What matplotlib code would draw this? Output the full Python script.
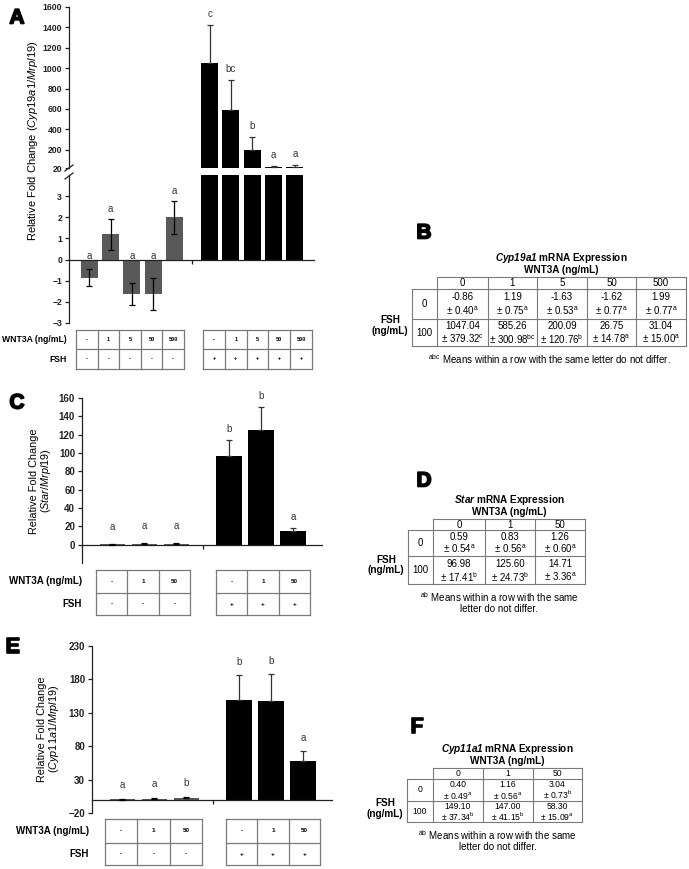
import numpy as np
import matplotlib.pyplot as plt
import matplotlib.patheffects as pe

plt.rcParams['font.family'] = ['Liberation Sans', 'DejaVu Sans']
plt.rcParams['mathtext.fontset'] = 'custom'
plt.rcParams['mathtext.rm'] = 'Liberation Sans'
plt.rcParams['mathtext.it'] = 'Liberation Sans:italic'
plt.rcParams['mathtext.bf'] = 'Liberation Sans:bold'
plt.rcParams['mathtext.bfit'] = 'Liberation Sans:italic:bold'

doses_a = [0, 1, 5, 50, 500]
cyp19_ctrl = [-0.86, 1.19, -1.63, -1.62, 1.99]
cyp19_ctrl_sem = [0.40, 0.75, 0.53, 0.77, 0.77]
cyp19_ctrl_let = ['a', 'a', 'a', 'a', 'a']
cyp19_fsh = [1047.04, 585.26, 200.09, 26.75, 31.04]
cyp19_fsh_sem = [379.32, 300.98, 120.76, 14.78, 15.00]
cyp19_fsh_let = ['c', 'bc', 'b', 'a', 'a']

doses_c = [0, 1, 50]
star_ctrl = [0.59, 0.83, 1.26]
star_ctrl_sem = [0.54, 0.56, 0.60]
star_ctrl_let = ['a', 'a', 'a']
star_fsh = [96.98, 125.60, 14.71]
star_fsh_sem = [17.41, 24.73, 3.36]
star_fsh_let = ['b', 'b', 'a']

cyp11_ctrl = [0.40, 1.16, 3.04]
cyp11_ctrl_sem = [0.49, 0.56, 0.73]
cyp11_ctrl_let = ['a', 'a', 'b']
cyp11_fsh = [149.10, 147.00, 58.30]
cyp11_fsh_sem = [37.34, 41.15, 15.09]
cyp11_fsh_let = ['b', 'b', 'a']

fsh_levels = [0, 100]

W, H = 689, 869
fig = plt.figure(figsize=(W / 100, H / 100), dpi=100)

GRAY = '#595959'
ERR = '#333333'
LINE = '#7a7a7a'
PX = 0.72  # points per pixel
HEAVY = [pe.withStroke(linewidth=1.2, foreground='black')]


def px_axes(x0, y0, x1, y1):
    return fig.add_axes([x0 / W, 1 - y1 / H, (x1 - x0) / W, (y1 - y0) / H])


def positions(n):
    g1 = np.arange(n, dtype=float)
    g2 = g1 + (n - 1) + 1.65
    return g1, g2


def style_axis(ax, tick_fs):
    for s in ['top', 'right']:
        ax.spines[s].set_visible(False)
    ax.spines['left'].set_linewidth(0.9)
    ax.spines['left'].set_color('#222222')
    ax.tick_params(axis='y', length=3, width=0.9, labelsize=tick_fs, pad=2, colors='#222222')
    for lab in ax.get_yticklabels():
        lab.set_fontweight('bold')


def zero_axis(ax, sep):
    ax.spines['bottom'].set_position(('data', 0))
    ax.spines['bottom'].set_linewidth(0.9)
    ax.spines['bottom'].set_color('#222222')
    ax.set_xticks([sep])
    ax.tick_params(axis='x', length=3, width=0.9, labelbottom=False, colors='#222222')


def letters(ax, xs, means, sems, lets, off_px=11):
    for x, m, e, t in zip(xs, means, sems, lets):
        if m < 0:
            y, off = 0, 4
        else:
            y, off = m + e, off_px
        ax.annotate(t, (x, y), xytext=(0, off * PX), textcoords='offset points',
                    ha='center', va='center', fontsize=7, color='#333333')


def errs(ax, xs, means, sems, both, color=ERR):
    lo = sems if both else [0] * len(sems)
    ax.errorbar(xs, means, yerr=[lo, sems], fmt='none', ecolor=color, elinewidth=0.9,
                capsize=2, capthick=0.9, zorder=3, clip_on=True)


ov = fig.add_axes([0, 0, 1, 1], zorder=5)
ov.set_xlim(0, W)
ov.set_ylim(H, 0)
ov.axis('off')
ov.patch.set_alpha(0)


def panel_label(x, y, s):
    ov.text(x, y, s, ha='center', va='center', fontsize=15, fontweight='bold',
            path_effects=HEAVY)


def dose_txt(d):
    return '-' if d == 0 else str(d)


def treat_table(boxes, top, mid, bot, doses, label_x, fs_lab, fs_cell):
    for (x0, x1), plus in zip(boxes, ['-', '+']):
        n = len(doses)
        edges = np.linspace(x0, x1, n + 1)
        for yy in [top, mid, bot]:
            ov.plot([x0, x1], [yy, yy], color=LINE, lw=0.9)
        for xx in edges:
            ov.plot([xx, xx], [top, bot], color=LINE, lw=0.9)
        cx = (edges[:-1] + edges[1:]) / 2
        for c, d in zip(cx, doses):
            ov.text(c, (top + mid) / 2, dose_txt(d), ha='center', va='center',
                    fontsize=fs_cell, fontweight='bold')
            ov.text(c, (mid + bot) / 2, plus, ha='center', va='center',
                    fontsize=fs_cell, fontweight='bold')
    ov.text(label_x, (top + mid) / 2, 'WNT3A (ng/mL)', ha='right', va='center',
            fontsize=fs_lab, fontweight='bold')
    ov.text(label_x, (mid + bot) / 2, 'FSH', ha='right', va='center',
            fontsize=fs_lab, fontweight='bold')


def summary_table(gene, x_lab, x_edges, y_edges, doses, rows, foot, foot_lines, fs=7):
    hdr_top, hdr_bot, r0_bot, r1_bot = y_edges
    x0, x1 = x_edges[0], x_edges[-1]
    cx = (x0 + x1) / 2
    ov.text(cx, hdr_top - 19, r'$\mathbfit{' + gene + '}$ mRNA Expression', ha='center',
            va='center', fontsize=7.2, fontweight='bold')
    ov.text(cx, hdr_top - 7, 'WNT3A (ng/mL)', ha='center', va='center', fontsize=7.2,
            fontweight='bold')
    ov.plot([x0, x1], [hdr_top, hdr_top], color=LINE, lw=0.8)
    for yy in [hdr_bot, r0_bot, r1_bot]:
        ov.plot([x_lab, x1], [yy, yy], color=LINE, lw=0.8)
    for xx in x_edges:
        ov.plot([xx, xx], [hdr_top, r1_bot], color=LINE, lw=0.8)
    ov.plot([x_lab, x_lab], [hdr_bot, r1_bot], color=LINE, lw=0.8)
    ccx = [(a + b) / 2 for a, b in zip(x_edges[:-1], x_edges[1:])]
    for c, d in zip(ccx, doses):
        ov.text(c, (hdr_top + hdr_bot) / 2, str(d), ha='center', va='center', fontsize=fs)
    bounds = [(hdr_bot, r0_bot), (r0_bot, r1_bot)]
    for (ya, yb), lvl, (means, sems, lets) in zip(bounds, fsh_levels, rows):
        h = yb - ya
        ov.text((x_lab + x_edges[0]) / 2, (ya + yb) / 2, str(lvl), ha='center', va='center',
                fontsize=fs)
        for c, m, e, t in zip(ccx, means, sems, lets):
            ov.text(c, ya + 0.27 * h, f'{m:.2f}', ha='center', va='center', fontsize=fs)
            ov.text(c, ya + 0.74 * h, f'± {e:.2f}' + r'$^{\mathrm{' + t + '}}$', ha='center',
                    va='center', fontsize=fs)
    ov.text(x_lab - 22, (hdr_bot + r1_bot) / 2 + 8, 'FSH\n(ng/mL)', ha='center', va='center',
            fontsize=7.2, fontweight='bold', linespacing=1.1)
    fy = r1_bot + 13
    for i, line in enumerate(foot_lines):
        txt = (r'${}^{\mathrm{' + foot + '}}$ ' if i == 0 else '') + line
        ov.text(cx - (10 if len(foot_lines) > 1 else 12), fy + i * 12, txt, ha='center',
                va='center', fontsize=7)


# ================= Panel A =================
g1, g2 = positions(len(doses_a))
sep_a = (g1[-1] + g2[0]) / 2
xlim_a = (-0.95, g2[-1] + 0.9)

ax_t = px_axes(69, 7, 314, 168)
ax_t.bar(g2, cyp19_fsh, width=0.8, color='black', zorder=2)
errs(ax_t, g2, cyp19_fsh, cyp19_fsh_sem, False)
letters(ax_t, g2, cyp19_fsh, cyp19_fsh_sem, cyp19_fsh_let)
ax_t.set_xlim(*xlim_a)
ax_t.set_ylim(20, 1600)
ax_t.set_yticks([20, 200, 400, 600, 800, 1000, 1200, 1400, 1600])
ax_t.spines['bottom'].set_visible(False)
ax_t.set_xticks([])
style_axis(ax_t, 6.2)

ax_b = px_axes(69, 175, 314, 323)
ax_b.bar(g1, cyp19_ctrl, width=0.8, color=GRAY, zorder=2)
ax_b.bar(g2, cyp19_fsh, width=0.8, color='black', zorder=2)
errs(ax_b, g1, cyp19_ctrl, cyp19_ctrl_sem, True, 'black')
letters(ax_b, g1, cyp19_ctrl, cyp19_ctrl_sem, cyp19_ctrl_let, off_px=10)
ax_b.set_xlim(*xlim_a)
ax_b.set_ylim(-3, 4)
ax_b.set_yticks(range(-3, 4))
zero_axis(ax_b, sep_a)
style_axis(ax_b, 6.2)

# axis break marks
for yb in (168, 176):
    ov.plot([65, 73], [yb + 3, yb - 3], color='#222222', lw=0.9)

ov.text(33, 141, r'Relative Fold Change ($\mathit{Cyp19a1/Mrpl19}$)', rotation=90,
        ha='center', va='center', fontsize=8)
panel_label(17, 18, 'A')
treat_table([(76, 184), (203, 312)], 330, 349, 369, doses_a, 67, 6.2, 4)

# ================= Panel C =================
h1, h2 = positions(len(doses_c))
sep_c = (h1[-1] + h2[0]) / 2
xlim_c = (-0.95, h2[-1] + 0.9)

ax_c = px_axes(82, 398, 322, 563)
ax_c.bar(h1, star_ctrl, width=0.8, color=GRAY, zorder=2)
ax_c.bar(h2, star_fsh, width=0.8, color='black', zorder=2)
errs(ax_c, h1, star_ctrl, star_ctrl_sem, True, 'black')
errs(ax_c, h2, star_fsh, star_fsh_sem, False)
letters(ax_c, h1, star_ctrl, star_ctrl_sem, star_ctrl_let, off_px=17)
letters(ax_c, h2, star_fsh, star_fsh_sem, star_fsh_let)
ax_c.set_xlim(*xlim_c)
ax_c.set_ylim(-20, 160)
ax_c.set_yticks(range(0, 161, 20))
zero_axis(ax_c, sep_c)
style_axis(ax_c, 7)

ov.text(41, 481, 'Relative Fold Change\n' + r'($\mathit{Star/Mrpl19}$)', rotation=90,
        ha='center', va='center', fontsize=7.8, linespacing=1.0)
panel_label(17, 403, 'C')
treat_table([(96, 190), (216, 310)], 570, 593, 615, doses_c, 82, 7, 4.5)

# ================= Panel E =================
ax_e = px_axes(92, 646, 332, 813)
ax_e.bar(h1, cyp11_ctrl, width=0.8, color=GRAY, zorder=2)
ax_e.bar(h2, cyp11_fsh, width=0.8, color='black', zorder=2)
errs(ax_e, h1, cyp11_ctrl, cyp11_ctrl_sem, True, 'black')
errs(ax_e, h2, cyp11_fsh, cyp11_fsh_sem, False)
letters(ax_e, h1, cyp11_ctrl, cyp11_ctrl_sem, cyp11_ctrl_let, off_px=14)
letters(ax_e, h2, cyp11_fsh, cyp11_fsh_sem, cyp11_fsh_let, off_px=13)
ax_e.set_xlim(*xlim_c)
ax_e.set_ylim(-20, 230)
ax_e.set_yticks(range(-20, 231, 50))
zero_axis(ax_e, sep_c)
style_axis(ax_e, 7)

ov.text(49, 729, 'Relative Fold Change\n' + r'($\mathit{Cyp11a1/Mrpl19}$)', rotation=90,
        ha='center', va='center', fontsize=7.8, linespacing=1.0)
panel_label(13, 647, 'E')
treat_table([(105, 202), (226, 320)], 819, 843, 865, doses_c, 89, 7, 4.5)

# ================= Tables B, D, F =================
panel_label(424, 233, 'B')
summary_table('Cyp19a1', 412, [437, 488, 537, 587, 636, 686], [277, 289, 319, 346], doses_a,
              [(cyp19_ctrl, cyp19_ctrl_sem, cyp19_ctrl_let),
               (cyp19_fsh, cyp19_fsh_sem, cyp19_fsh_let)],
              'abc', ['Means within a row with the same letter do not differ.'])

panel_label(424, 481, 'D')
summary_table('Star', 408, [433, 485, 535, 585], [519, 530, 556, 584], doses_c,
              [(star_ctrl, star_ctrl_sem, star_ctrl_let),
               (star_fsh, star_fsh_sem, star_fsh_let)],
              'ab', ['Means within a row with the same', 'letter do not differ.'])

panel_label(417, 727, 'F')
summary_table('Cyp11a1', 407, [433, 483, 533, 582], [768, 779, 801, 822], doses_c,
              [(cyp11_ctrl, cyp11_ctrl_sem, cyp11_ctrl_let),
               (cyp11_fsh, cyp11_fsh_sem, cyp11_fsh_let)],
              'ab', ['Means within a row with the same', 'letter do not differ.'], fs=6.2)

fig.savefig('out.png', dpi=100)
